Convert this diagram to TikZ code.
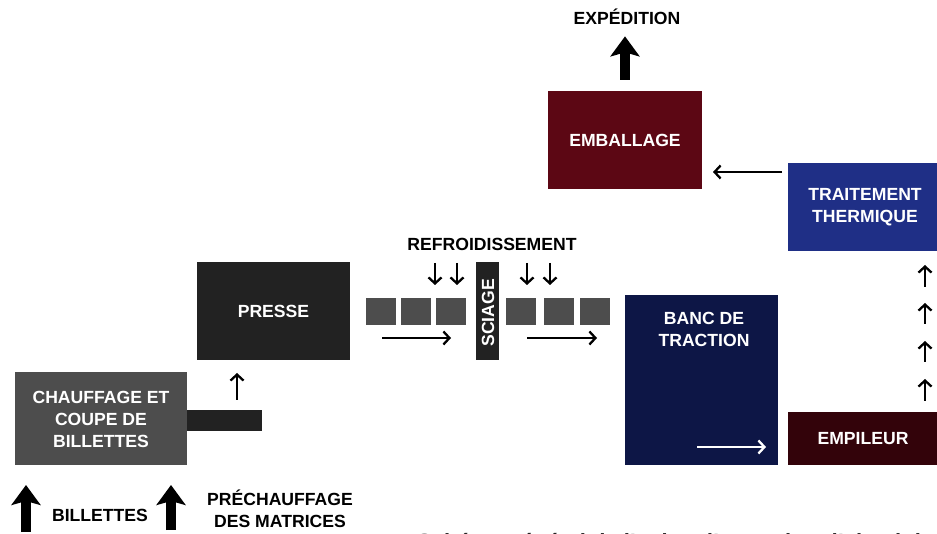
\documentclass[tikz,border=0pt]{standalone}
\usepackage{fontspec}
\setmainfont{Liberation Sans}
\usetikzlibrary{arrows.meta}
\definecolor{cgrey}{HTML}{4D4D4D}
\definecolor{cdark}{HTML}{222222}
\definecolor{cemb}{HTML}{5C0714}
\definecolor{ctrait}{HTML}{1F2F86}
\definecolor{cbanc}{HTML}{0D1646}
\definecolor{cempil}{HTML}{33030A}
\begin{document}
\begin{tikzpicture}[x=1pt,y=-1pt,
  box/.style={rectangle,inner sep=0pt,outer sep=0pt},
  lbl/.style={font=\bfseries\fontsize{17.6}{22}\selectfont,align=center,text=white,inner sep=0pt},
  blbl/.style={lbl,text=black},
  thinarr/.style={line width=2.3pt,-{Straight Barb[length=6pt,width=13pt]}},
  bigarr/.style={line width=9.5pt,-{Stealth[length=20pt,width=29pt,inset=4pt]}}
]
\useasboundingbox (0,0) rectangle (937,534);

% boxes
\node[box,fill=cgrey,minimum width=172pt,minimum height=93pt] (chauf) at (101,418.5) {};
\node[box,fill=cdark,minimum width=75pt,minimum height=21pt] (bar) at (224.5,420.5) {};
\node[box,fill=cdark,minimum width=153pt,minimum height=98pt] (presse) at (273.5,311) {};
\node[box,fill=cbanc,minimum width=153pt,minimum height=170pt] (banc) at (701.5,380) {};
\node[box,fill=cempil,minimum width=149pt,minimum height=53pt] (empil) at (862.5,438.5) {};
\node[box,fill=ctrait,minimum width=149pt,minimum height=88pt] (trait) at (862.5,207) {};
\node[box,fill=cemb,minimum width=154pt,minimum height=98pt] (emb) at (625,140) {};
\node[box,fill=cdark,minimum width=23pt,minimum height=98pt] (sciage) at (487.5,311) {};

% billets on the run-out table
\foreach \i/\x in {1/381,2/416,3/451,4/521,5/558.5,6/595}
  \node[box,fill=cgrey,minimum width=30pt,minimum height=27pt] (sq\i) at (\x,311.5) {};

% labels
\node[lbl] (tchauf) at (101,419) {CHAUFFAGE ET\\COUPE DE\\BILLETTES};
\node[lbl] (tpresse) at (273.5,311) {PRESSE};
\node[lbl] (tbanc) at (704,329) {BANC DE\\TRACTION};
\node[lbl] (tempil) at (863,438.5) {EMPILEUR};
\node[lbl] (ttrait) at (865,207) {TRAITEMENT\\THERMIQUE};
\node[lbl] (temb) at (625,140) {EMBALLAGE};
\node[lbl,rotate=90] (tsciage) at (488,313) {SCIAGE};
\node[blbl,anchor=base] (exp) at (627,25) {EXPÉDITION};
\node[blbl] (refr) at (492,244.5) {REFROIDISSEMENT};
\node[blbl] (bill) at (100,515) {BILLETTES};
\node[blbl] (prech) at (280,509) {PRÉCHAUFFAGE\\DES MATRICES};
\node[anchor=base west,inner sep=0pt,text=cdark,font=\bfseries\fontsize{22}{26}\selectfont] (caption) at (417,549) {Schéma général de l'usine d'extrusion d'aluminium};

% big arrows
\draw[bigarr,shorten <=11pt,shorten >=11pt] (emb.north) -- (emb.north |- exp.south);
\coordinate (b1s) at (26,532);
\coordinate (b2s) at (171,530);
\coordinate (b1e) at (26,485);
\coordinate (b2e) at (171,485);
\draw[bigarr] (b1s) -- (b1e);
\draw[bigarr] (b2s) -- (b2e);

% thin arrows
\coordinate (pa) at (237,400);
\draw[thinarr,shorten >=13pt] (pa) -- (pa |- presse.south);
\foreach \x in {435,457,527,550}
  \draw[thinarr] (\x,263) -- (\x,285);
\draw[thinarr] (382,338) -- (451,338);
\draw[thinarr] (527,338) -- (597,338);
\draw[thinarr,draw=white] (697,447) -- (766,447);
\foreach \a/\b in {287/265,324/303,362/341,401/379}
  \draw[thinarr] (925,\a) -- (925,\b);
\coordinate (ta) at (782,172);
\draw[thinarr,shorten >=11pt] (ta) -- (emb.east |- ta);
\end{tikzpicture}
\end{document}
